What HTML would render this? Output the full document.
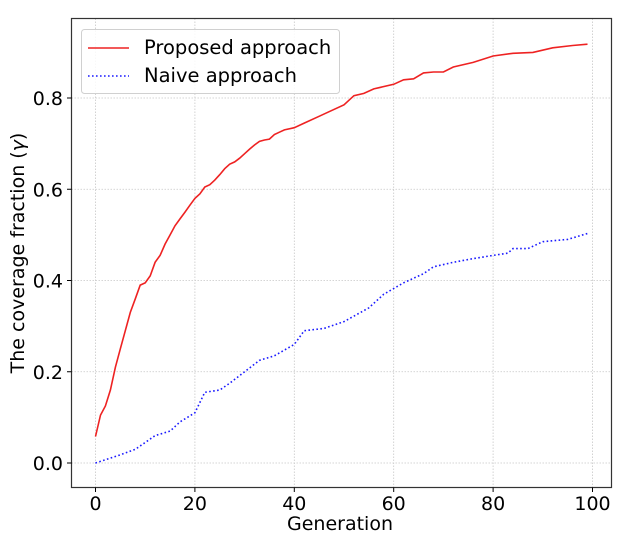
<!DOCTYPE html>
<html><head><meta charset="utf-8"><style>
body{margin:0;background:#fff;}
text{font-family:"DejaVu Sans","Liberation Sans",sans-serif;fill:#000;}
</style></head><body>
<svg id="s" width="622" height="536" xmlns="http://www.w3.org/2000/svg">
<rect x="0" y="0" width="622" height="536" fill="#fff"/>
<g id="grid" stroke="#c8c8c8" stroke-width="0.8" stroke-dasharray="1.5,1.5"></g>
<polyline id="red" fill="none" stroke="#ee2222" stroke-width="1.6"/>
<polyline id="blue" fill="none" stroke="#1a1aff" stroke-width="1.6" stroke-dasharray="1.6,2.4"/>
<rect x="71.5" y="18.5" width="540" height="469" fill="none" stroke="#333" stroke-width="1.2"/>
<g id="ticks" stroke="#000" stroke-width="1"></g>
<g id="labels" font-size="19"></g>
<text x="340" y="530" font-size="19" text-anchor="middle">Generation</text>
<text transform="translate(24,253) rotate(-90)" font-size="19" text-anchor="middle">The coverage fraction (<tspan font-style="italic">γ</tspan>)</text>
<rect x="81.5" y="29.5" width="258" height="64" rx="3" fill="#fff" fill-opacity="0.85" stroke="#d0d0d0"/>
<line x1="88" y1="48" x2="129" y2="48" stroke="#ee2222" stroke-width="1.6"/>
<line x1="88" y1="76" x2="129" y2="76" stroke="#1a1aff" stroke-width="1.6" stroke-dasharray="1.6,2.4"/>
<text x="144" y="54" font-size="19.5">Proposed approach</text>
<text x="144" y="82" font-size="19.5">Naive approach</text>
</svg>
<script>
var X=function(g){return 95.5+g*4.97},Y=function(v){return 463-v*456.25};
var red=[[0,.058],[1,.105],[2,.125],[3,.16],[4,.21],[5,.25],[6,.29],[7,.33],[8,.36],[9,.39],[10,.395],[11,.41],[12,.44],[13,.455],[14,.48],[15,.5],[16,.52],[17,.535],[18,.55],[19,.565],[20,.58],[21,.59],[22,.605],[23,.61],[24,.62],[25,.632],[26,.645],[27,.655],[28,.66],[29,.668],[30,.678],[31,.688],[32,.697],[33,.705],[34,.708],[35,.71],[36,.72],[37,.725],[38,.73],[40,.735],[42,.745],[45,.76],[47,.77],[50,.785],[52,.805],[54,.81],[56,.82],[60,.83],[62,.84],[64,.842],[66,.855],[68,.857],[70,.857],[72,.868],[76,.878],[80,.892],[84,.898],[88,.9],[92,.91],[96,.915],[99,.918]];
var blue=[[0,0],[5,.018],[8,.03],[10,.045],[12,.06],[15,.07],[17,.09],[20,.11],[22,.155],[25,.16],[27,.175],[30,.2],[33,.225],[36,.235],[40,.26],[42,.29],[46,.295],[50,.31],[55,.34],[58,.37],[62,.395],[66,.415],[68,.43],[72,.44],[76,.448],[80,.455],[83,.46],[84,.47],[87,.47],[90,.485],[95,.49],[99,.503]];
function pts(a){return a.map(function(p){return X(p[0]).toFixed(1)+","+Y(p[1]).toFixed(1)}).join(" ")}
document.getElementById("red").setAttribute("points",pts(red));
document.getElementById("blue").setAttribute("points",pts(blue));
var g=document.getElementById("grid"),t=document.getElementById("ticks"),l=document.getElementById("labels"),h="",tk="",lb="";
for(var i=0;i<=100;i+=20){var x=X(i);h+='<line x1="'+x+'" y1="18.5" x2="'+x+'" y2="487.5"/>';tk+='<line x1="'+x+'" y1="487.5" x2="'+x+'" y2="492"/>';lb+='<text x="'+x+'" y="510" text-anchor="middle">'+i+'</text>';}
for(var j=0;j<=4;j++){var v=j*0.2,y=Y(v);h+='<line x1="71.5" y1="'+y+'" x2="611.5" y2="'+y+'"/>';tk+='<line x1="67" y1="'+y+'" x2="71.5" y2="'+y+'"/>';lb+='<text x="63" y="'+(y+7)+'" text-anchor="end">'+v.toFixed(1)+'</text>';}
g.innerHTML=h;t.innerHTML=tk;l.innerHTML=lb;
</script>
</body></html>
